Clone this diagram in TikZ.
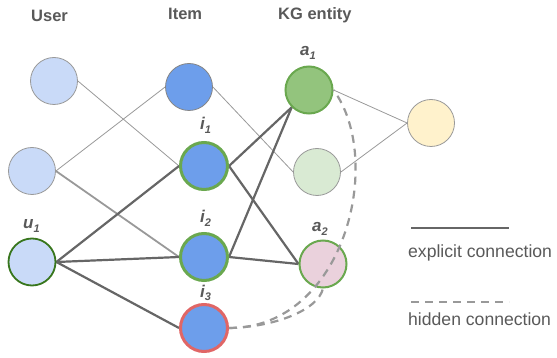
\documentclass[tikz,border=0pt]{standalone}
\usepackage{fontspec}
\setmainfont{Liberation Sans}
\usetikzlibrary{backgrounds}
\definecolor{txt}{HTML}{595959}
\definecolor{lblue}{HTML}{C9DAF8}
\definecolor{mblue}{HTML}{6D9EEB}
\definecolor{grn}{HTML}{6AA84F}
\definecolor{dgrn}{HTML}{38761D}
\definecolor{rd}{HTML}{E06666}
\definecolor{agrn}{HTML}{93C47D}
\definecolor{lgrn}{HTML}{D9EAD3}
\definecolor{ylw}{HTML}{FFF2CC}
\definecolor{pnk}{HTML}{EAD1DC}
\definecolor{edgegray}{HTML}{999999}
\definecolor{darkedge}{HTML}{666666}
\begin{document}
\begin{tikzpicture}[x=1pt,y=-1pt,
  nd/.style={circle,minimum size=47pt,inner sep=0pt},
  plainnd/.style={nd,draw=edgegray,line width=0.8pt},
  header/.style={anchor=base west,inner sep=0pt,text=txt,font=\fontsize{16.5}{16.5}\selectfont\bfseries},
  lbl/.style={anchor=base west,inner sep=0pt,text=txt,font=\fontsize{17}{17}\selectfont\bfseries\itshape},
  legtxt/.style={anchor=base west,inner sep=0pt,text=txt,font=\fontsize{17.6}{17.6}\selectfont},
  thinedge/.style={draw=edgegray,line width=0.8pt},
  midedge/.style={draw=edgegray,line width=1.8pt},
  strong/.style={draw=darkedge,line width=2.2pt},
  hidden/.style={draw=edgegray,line width=2.2pt,dash pattern=on 8pt off 6pt}
]
\useasboundingbox (0,0) rectangle (557,358);
\newcommand{\sbs}[1]{\raisebox{-3.5pt}{\fontsize{11}{11}\selectfont #1}}

% headers
\node[header] (hu) at (31,22) {User};
\node[header] (hi) at (168,20) {Item};
\node[header] (hk) at (278,20) {KG entity};

% nodes
\node[plainnd,fill=lblue] (ut) at (54,81) {};
\node[plainnd,fill=lblue] (um) at (32,171) {};
\node[nd,fill=lblue,draw=dgrn,line width=1.8pt] (u1) at (32,262) {};
\node[nd,fill=mblue,draw=darkedge!80,line width=0.8pt] (it) at (189,87) {};
\node[nd,fill=mblue,draw=grn,line width=3pt] (i1) at (204,166) {};
\node[nd,fill=mblue,draw=grn,line width=3pt] (i2) at (204,257) {};
\node[nd,fill=mblue,draw=rd,line width=3pt] (i3) at (204,328) {};
\node[nd,fill=agrn,draw=grn,line width=2pt] (a1) at (309,90) {};
\node[plainnd,fill=lgrn] (lg) at (317,172) {};
\node[plainnd,fill=ylw] (yl) at (431,123) {};
\node[nd,fill=pnk,draw=grn,line width=2pt] (a2) at (323,264) {};

% labels
\node[lbl] (la1) at (300,56) {a\sbs{1}};
\node[lbl] (li1) at (200,130) {i\sbs{1}};
\node[lbl] (li2) at (200,223) {i\sbs{2}};
\node[lbl] (li3) at (200,297) {i\sbs{3}};
\node[lbl] (lu1) at (23,229) {u\sbs{1}};
\node[lbl] (la2) at (312,232) {a\sbs{2}};

% edges (behind nodes)
\begin{pgfonlayer}{background}
\path[thinedge] (ut.east) -- (i1.west);
\path[thinedge] (um.east) -- (it.west);
\path[thinedge] (it.east) -- (lg.west);
\path[thinedge] (a1.east) -- (yl.west);
\path[thinedge] (lg.east) -- (yl.west);
\path[midedge] (um.east) -- (i2.west);
\path[strong] (u1.east) -- (i1.west);
\path[strong] (u1.east) -- (i2.west);
\path[strong] (u1.east) -- (i3.west);
\path[strong] (i1.east) -- (a1.south west);
\path[strong] (i2.east) -- (a1.south west);
\path[strong] (i1.east) -- (a2.west);
\path[strong] (i2.east) -- (a2.west);
\end{pgfonlayer}
% hidden connections (drawn over a2 as in the reference)
\path[hidden] (i3.east) .. controls (345,328) and (385,160) .. (a1.east);
\path[hidden] (i3.east) .. controls (275,327) and (318,310) .. (a2.south);

% legend
\coordinate (ls1) at (411,228);
\coordinate (le1) at (509,228);
\coordinate (ls2) at (411,302);
\coordinate (le2) at (509,302);
\path[draw=darkedge,line width=2.6pt] (ls1) -- (le1);
\path[hidden] (ls2) -- (le2);
\node[legtxt] (t1) at (408,258) {explicit connection};
\node[legtxt] (t2) at (408,325) {hidden connection};
\end{tikzpicture}
\end{document}
